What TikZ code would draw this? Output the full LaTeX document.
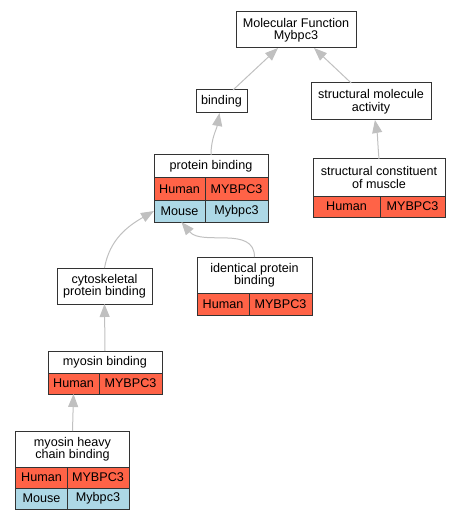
\documentclass[tikz,border=0pt]{standalone}
\usepackage{fontspec}
\setmainfont{Liberation Sans}
\usepackage{tikz}
\usetikzlibrary{arrows.meta,positioning}
\definecolor{tomato}{RGB}{255,99,71}
\definecolor{lightblue}{RGB}{173,216,230}
\definecolor{edgegray}{RGB}{192,192,192}
\newcommand\boxfont{\fontsize{12.6bp}{12.5bp}\selectfont}
\tikzset{
  term/.style={draw=black!80, line width=1bp, fill=white, inner sep=0pt, outer sep=0pt, align=center, font=\boxfont},
  cell/.style={term, anchor=north west, minimum height=22bp},
  human/.style={cell, fill=tomato},
  mouse/.style={cell, fill=lightblue},
  isa/.style={draw=edgegray, line width=1bp, -{Triangle[length=13bp,width=10bp]}}
}

\begin{document}
\begin{tikzpicture}[x=1bp,y=-1bp]
\useasboundingbox (0,0) rectangle (460,520);
\node[term, minimum width=120bp, minimum height=36bp] (mf) at (296,30) {Molecular Function\\Mybpc3};
\node[term, minimum width=51bp, minimum height=23bp] (bd) at (221.5,101.5) {binding};
\node[term, minimum width=120bp, minimum height=37bp] (sma) at (371,101.5) {structural molecule\\activity};
% protein binding
\node[term, minimum width=114bp, minimum height=23bp] (pb) at (211,166.5) {protein binding};
\node[human, minimum width=51bp] (pbH) at (pb.south west) {Human};
\node[human, minimum width=63bp] (pbHg) at (pbH.north east) {MYBPC3};
\node[mouse, minimum width=51bp] (pbM) at (pbH.south west) {Mouse};
\node[mouse, minimum width=63bp] (pbMg) at (pbM.north east) {Mybpc3};
% structural constituent of muscle
\node[term, minimum width=132bp, minimum height=37bp] (scm) at (379,177.5) {structural constituent\\of muscle};
\node[human, minimum width=67bp, minimum height=21bp] (scmH) at (scm.south west) {Human};
\node[human, minimum width=65bp, minimum height=21bp] (scmHg) at (scmH.north east) {MYBPC3};
% identical protein binding
\node[term, minimum width=115bp, minimum height=36bp] (ip) at (254.5,275) {identical protein\\binding};
\node[human, minimum width=52bp] (ipH) at (ip.south west) {Human};
\node[human, minimum width=63bp] (ipHg) at (ipH.north east) {MYBPC3};
% cytoskeletal protein binding
\node[term, minimum width=95bp, minimum height=36bp] (cs) at (104.5,286) {cytoskeletal\\protein binding};
% myosin binding
\node[term, minimum width=114bp, minimum height=22bp] (mb) at (105,362) {myosin binding};
\node[human, minimum width=51bp, minimum height=21bp] (mbH) at (mb.south west) {Human};
\node[human, minimum width=63bp, minimum height=21bp] (mbHg) at (mbH.north east) {MYBPC3};
% myosin heavy chain binding
\node[term, minimum width=113bp, minimum height=36bp] (mh) at (72.5,449) {myosin heavy\\chain binding};
\node[human, minimum width=51bp, minimum height=21bp] (mhH) at (mh.south west) {Human};
\node[human, minimum width=62bp, minimum height=21bp] (mhHg) at (mhH.north east) {MYBPC3};
\node[mouse, minimum width=51bp, minimum height=21bp] (mhM) at (mhH.south west) {Mouse};
\node[mouse, minimum width=62bp, minimum height=21bp] (mhMg) at (mhM.north east) {Mybpc3};

\draw[isa] (bd.45) -- (mf.225);
\draw[isa] (sma.137) -- (mf.-45);
\draw[isa] (pb.north) to[out=90,in=-100] (bd.-100);
\draw[isa] (scm.north) to[out=95,in=-80] (sma.-78);
\draw[isa] (cs.north) to[out=80,in=210] (pbM.west);
\draw[isa] (ip.north) to[out=90,in=-50] (pbM.-80);
\draw[isa] (mb.north) -- (cs.south);
\draw[isa] (mh.north) -- (mbH.south);
\end{tikzpicture}
\end{document}
